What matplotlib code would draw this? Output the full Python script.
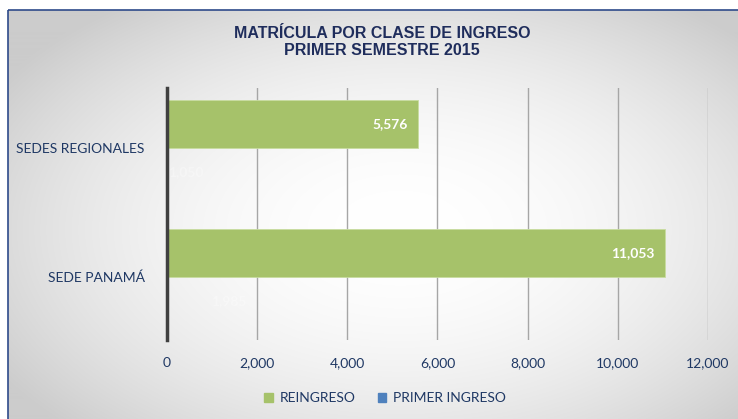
import matplotlib.pyplot as plt
import numpy as np
from matplotlib.patches import Rectangle

# data
categorias = ["SEDE PANAMÁ", "SEDES REGIONALES"]
reingreso = [11053, 5576]
primer_ingreso = [1985, 1050]
series = ["REINGRESO", "PRIMER INGRESO"]
x_ticks = [0, 2000, 4000, 6000, 8000, 10000, 12000]

navy = "#1f3864"
green = "#a6c26a"
blue = "#4f81bd"

plt.rcParams["font.family"] = ["Lato", "DejaVu Sans"]

fig = plt.figure(figsize=(7.38, 4.19), dpi=100)
fig.patch.set_facecolor("white")

# gray gradient background with frame
bg = fig.add_axes([0, 0, 1, 1], zorder=-10)
bg.set_xlim(0, 738)
bg.set_ylim(419, 0)
bg.axis("off")
yy, xx = np.mgrid[0:419, 0:738]
d2 = ((xx - 400) / 420.0) ** 2 + ((yy - 230) / 250.0) ** 2
shade = np.clip(1.0 - 0.16 * d2, 0.80, 1.0)
img = np.dstack([shade, shade, shade])
im = bg.imshow(img, extent=(0, 738, 419, 0), aspect="auto")
frame = Rectangle((8, 10), 740, 420, fill=False, edgecolor="#2e4a8a", lw=1.2)
bg.add_patch(frame)
im.set_clip_path(frame)

ax = fig.add_axes([0.2263, 0.1885, 0.7330, 0.6014])
ax.patch.set_alpha(0)

y = np.arange(len(categorias))
h = 0.372
b1 = ax.barh(y + h / 2, reingreso, height=h, color=green, edgecolor="#c8dca0",
             lw=0.6, label=series[0], zorder=2)
b2 = ax.barh(y - h / 2, primer_ingreso, height=h, facecolor="none",
             edgecolor="none", label=series[1], zorder=2)

for rect, v in zip(b1, reingreso):
    ax.text(v - 230, rect.get_y() + rect.get_height() / 2, f"{v:,}",
            ha="right", va="center", color="white", fontsize=10,
            fontweight="bold", zorder=3)
for rect, v in zip(b2, primer_ingreso):
    ax.text(v - 230, rect.get_y() + rect.get_height() / 2, f"{v:,}",
            ha="right", va="center", color="white", fontsize=10,
            fontweight="bold", alpha=0.3, zorder=3)

ax.set_xlim(0, 12000)
ax.set_ylim(-0.488, 1.465)
ax.set_xticks(x_ticks)
ax.set_xticklabels([f"{t:,}" for t in x_ticks], color=navy, fontsize=10)
ax.set_yticks(y)
ax.set_yticklabels(categorias, color=navy, fontsize=10)
ax.tick_params(length=0)
ax.tick_params(axis="x", pad=12)
ax.tick_params(axis="y", pad=16)
ax.grid(axis="x", color="#a6a6a6", lw=1, zorder=1)
ax.set_axisbelow(True)
for s in ["top", "right", "bottom"]:
    ax.spines[s].set_visible(False)
ax.spines["left"].set_color("#404040")
ax.spines["left"].set_linewidth(2.5)
ax.spines["left"].set_zorder(4)

fig.text(0.518, 0.937, "MATRÍCULA POR CLASE DE INGRESO\nPRIMER SEMESTRE 2015",
         ha="center", va="top", color="#1f2d5c", fontsize=11.5,
         fontweight="bold", family=["Liberation Sans", "DejaVu Sans"],
         linespacing=1.1)

handles = [Rectangle((0, 0), 1, 1, color=green), Rectangle((0, 0), 1, 1, color=blue)]
fig.legend(handles, series, loc="center", bbox_to_anchor=(0.522, 0.05), ncol=2,
           frameon=False, fontsize=10, labelcolor=navy, handlelength=0.6,
           handleheight=0.6, handletextpad=0.5, columnspacing=1.6)

fig.savefig("out.png", dpi=100)
